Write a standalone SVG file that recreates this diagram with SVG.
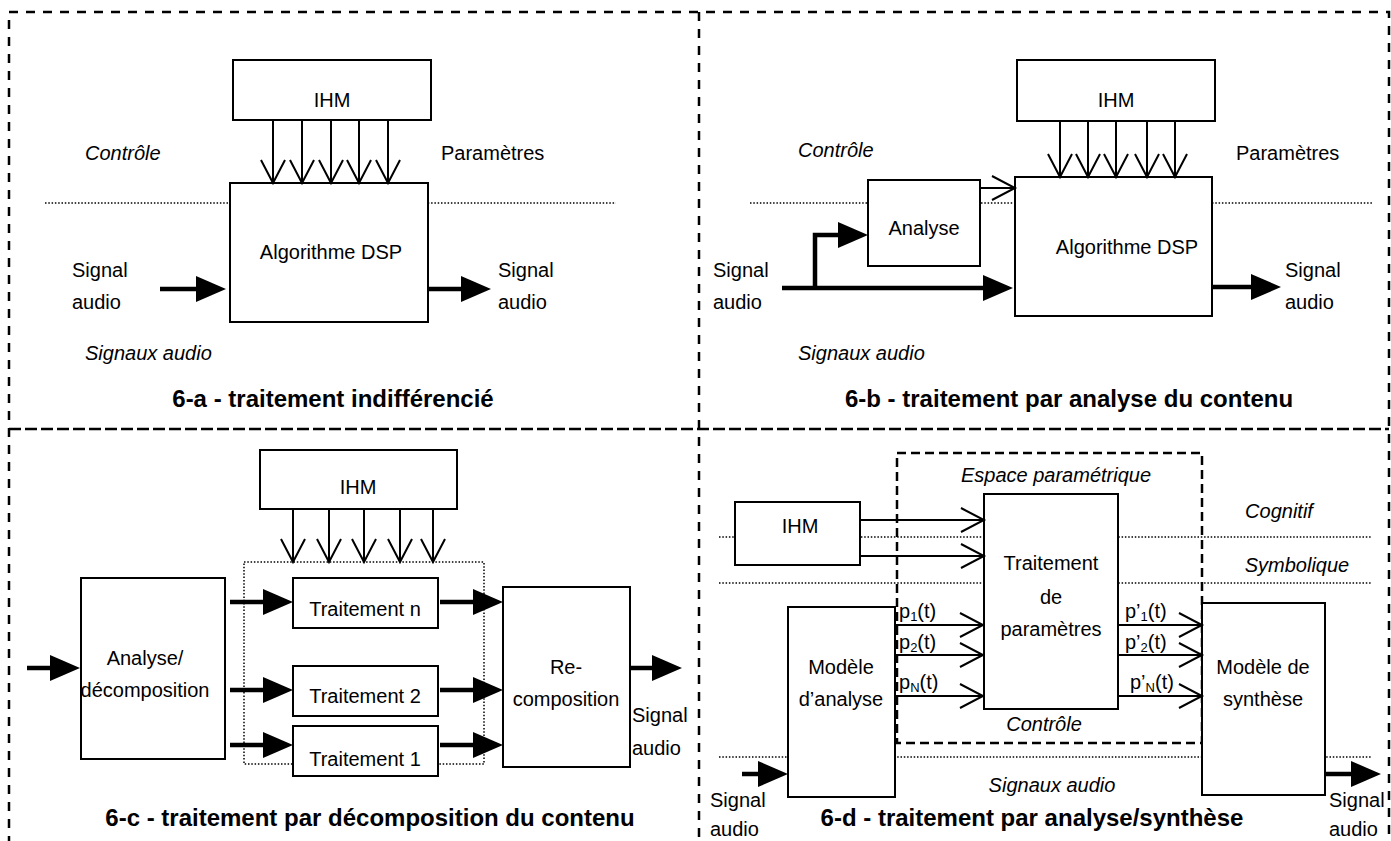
<svg xmlns="http://www.w3.org/2000/svg" width="1391" height="841" viewBox="0 0 1391 841">
<style>
text{font-family:"Liberation Sans",Arial,sans-serif;font-size:20px;fill:#000}
.c{text-anchor:middle}
.i{font-style:italic}
.t{font-weight:bold;font-size:24px;text-anchor:middle}
.sub{font-size:13px}
.box{fill:#fff;stroke:#000;stroke-width:2}
.frame{fill:none;stroke:#000;stroke-width:2.5;stroke-dasharray:9 8}
.mid{fill:none;stroke:#000;stroke-width:2.5;stroke-dasharray:12 4}
.dash{fill:none;stroke:#000;stroke-width:2.5;stroke-dasharray:9 5}
.dot{fill:none;stroke:#000;stroke-width:1.5;stroke-dasharray:1.5 1.8}
.thin{fill:none;stroke:#000;stroke-width:2;marker-end:url(#open)}
.thick{fill:none;stroke:#000;stroke-width:4.5;marker-end:url(#solid)}
</style>
<defs>
<marker id="open" markerUnits="userSpaceOnUse" markerWidth="26" markerHeight="26" refX="23" refY="12" orient="auto" overflow="visible">
<path d="M0,0 L23,12 L0,24" fill="none" stroke="#000" stroke-width="2"/>
</marker>
<marker id="solid" markerUnits="userSpaceOnUse" markerWidth="30" markerHeight="26" refX="2" refY="13" orient="auto" overflow="visible">
<path d="M0,0 L30,13 L0,26 z" fill="#000"/>
</marker>
</defs>
<rect width="1391" height="841" fill="#fff"/>

<g id="frames">
<path class="frame" d="M9,845 V12 H1389 V845"/>
<path class="frame" d="M699,12 V845"/>
<path class="mid" d="M9,429 H1389"/>
</g>

<g id="layers">
<path class="dot" d="M45,203 H616"/>
<path class="dot" d="M750,203 H1372"/>
<rect class="dot" x="244" y="562" width="240" height="202"/>
<path class="dot" d="M719,537 H1372 M719,583 H1372 M719,757 H1372"/>
<rect class="dash" x="897" y="453" width="305" height="290"/>
</g>

<!-- Panel a -->
<g id="a-ihm"><rect class="box" x="233" y="60" width="198" height="60"/><text class="c" x="332" y="107">IHM</text></g>
<g id="a-dsp"><rect class="box" x="230" y="183" width="198" height="139"/><text class="c" x="331" y="259">Algorithme DSP</text></g>
<g id="a-labels">
<text class="i" x="85" y="160">Contrôle</text>
<text x="441" y="160">Paramètres</text>
<text x="72" y="277">Signal</text><text x="72" y="309">audio</text>
<text x="498" y="277">Signal</text><text x="498" y="309">audio</text>
<text class="i" x="85" y="360">Signaux audio</text>
<text class="t" x="333" y="407">6-a - traitement indifférencié</text>
</g>

<!-- Panel b -->
<g id="b-ihm"><rect class="box" x="1017" y="60" width="198" height="61"/><text class="c" x="1116" y="107">IHM</text></g>
<g id="b-analyse"><rect class="box" x="868" y="180" width="112" height="86"/><text class="c" x="924" y="235">Analyse</text></g>
<g id="b-dsp"><rect class="box" x="1015" y="177" width="197" height="139"/><text class="c" x="1127" y="254">Algorithme DSP</text></g>
<g id="b-labels">
<text class="i" x="798" y="157">Contrôle</text>
<text x="1236" y="160">Paramètres</text>
<text x="713" y="277">Signal</text><text x="713" y="309">audio</text>
<text x="1285" y="277">Signal</text><text x="1285" y="309">audio</text>
<text class="i" x="798" y="360">Signaux audio</text>
<text class="t" x="1069" y="407">6-b - traitement par analyse du contenu</text>
</g>

<!-- Panel c -->
<g id="c-ihm"><rect class="box" x="260" y="450" width="197" height="59"/><text class="c" x="358" y="494">IHM</text></g>
<g id="c-analyse"><rect class="box" x="81" y="578" width="144" height="181"/><text class="c" x="145" y="665">Analyse/</text><text class="c" x="145" y="697">décomposition</text></g>
<g id="c-tn"><rect class="box" x="293" y="578" width="145" height="50"/><text class="c" x="365" y="616">Traitement n</text></g>
<g id="c-t2"><rect class="box" x="293" y="666" width="145" height="50"/><text class="c" x="365" y="703">Traitement 2</text></g>
<g id="c-t1"><rect class="box" x="293" y="726" width="145" height="50"/><text class="c" x="365" y="766">Traitement 1</text></g>
<g id="c-recomp"><rect class="box" x="503" y="587" width="127" height="180"/><text class="c" x="566" y="674">Re-</text><text class="c" x="566" y="706">composition</text></g>
<g id="c-labels">
<text x="632" y="722">Signal</text><text x="632" y="755">audio</text>
<text class="t" x="370" y="826">6-c - traitement par décomposition du contenu</text>
</g>

<!-- Panel d -->
<g id="d-ihm"><rect class="box" x="735" y="502" width="125" height="63"/><text class="c" x="800" y="533">IHM</text></g>
<g id="d-traitement"><rect class="box" x="984" y="494" width="134" height="215"/><text class="c" x="1051" y="570">Traitement</text><text class="c" x="1051" y="604">de</text><text class="c" x="1051" y="636">paramètres</text></g>
<g id="d-analyse"><rect class="box" x="788" y="607" width="107" height="190"/><text class="c" x="841" y="674">Modèle</text><text class="c" x="841" y="706">d’analyse</text></g>
<g id="d-synthese"><rect class="box" x="1202" y="603" width="123" height="192"/><text class="c" x="1263" y="674">Modèle de</text><text class="c" x="1263" y="706">synthèse</text></g>
<g id="d-labels">
<text class="i c" x="1056" y="482">Espace paramétrique</text>
<text class="i c" x="1279" y="518">Cognitif</text>
<text class="i c" x="1297" y="572">Symbolique</text>
<text x="899" y="618">p<tspan class="sub" dy="3">1</tspan><tspan dy="-3">(t)</tspan></text>
<text x="899" y="649">p<tspan class="sub" dy="3">2</tspan><tspan dy="-3">(t)</tspan></text>
<text x="899" y="689">p<tspan class="sub" dy="3">N</tspan><tspan dy="-3">(t)</tspan></text>
<text x="1125" y="618">p’<tspan class="sub" dy="3">1</tspan><tspan dy="-3">(t)</tspan></text>
<text x="1125" y="649">p’<tspan class="sub" dy="3">2</tspan><tspan dy="-3">(t)</tspan></text>
<text x="1130" y="689">p’<tspan class="sub" dy="3">N</tspan><tspan dy="-3">(t)</tspan></text>
<text class="i c" x="1044" y="731">Contrôle</text>
<text class="i c" x="1052" y="792">Signaux audio</text>
<text x="710" y="807">Signal</text><text x="710" y="836">audio</text>
<text x="1329" y="807">Signal</text><text x="1329" y="836">audio</text>
<text class="t" x="1032" y="826">6-d - traitement par analyse/synthèse</text>
</g>

<g id="connectors">
<!-- a -->
<path class="thin" d="M273,120 V183"/>
<path class="thin" d="M302,120 V183"/>
<path class="thin" d="M331,120 V183"/>
<path class="thin" d="M359,120 V183"/>
<path class="thin" d="M388,120 V183"/>
<path class="thick" d="M160,289 H198"/>
<path class="thick" d="M428,289 H463"/>
<!-- b -->
<path class="thin" d="M1060,121 V177"/>
<path class="thin" d="M1088,121 V177"/>
<path class="thin" d="M1116,121 V177"/>
<path class="thin" d="M1147,121 V177"/>
<path class="thin" d="M1175,121 V177"/>
<path class="thin" d="M980,188 H1015"/>
<path class="thick" d="M782,288 H985"/>
<path class="thick" d="M815,290 V235 H840" stroke-linejoin="miter"/>
<path class="thick" d="M1212,287 H1253"/>
<!-- c -->
<path class="thin" d="M293,509 V562"/>
<path class="thin" d="M329,509 V562"/>
<path class="thin" d="M364,509 V562"/>
<path class="thin" d="M400,509 V562"/>
<path class="thin" d="M433,509 V562"/>
<path class="thick" d="M230,602 H265"/>
<path class="thick" d="M230,690 H265"/>
<path class="thick" d="M230,745 H265"/>
<path class="thick" d="M440,602 H475"/>
<path class="thick" d="M440,690 H475"/>
<path class="thick" d="M440,745 H475"/>
<path class="thick" d="M27,668 H52"/>
<path class="thick" d="M630,668 H654"/>
<!-- d -->
<path class="thin" d="M860,520 H984"/>
<path class="thin" d="M860,556 H984"/>
<path class="thin" d="M895,625 H983"/>
<path class="thin" d="M895,655 H983"/>
<path class="thin" d="M895,696 H983"/>
<path class="thin" d="M1118,625 H1202"/>
<path class="thin" d="M1118,655 H1202"/>
<path class="thin" d="M1118,696 H1202"/>
<path class="thick" d="M742,774 H760"/>
<path class="thick" d="M1325,774 H1353"/>
</g>
</svg>
